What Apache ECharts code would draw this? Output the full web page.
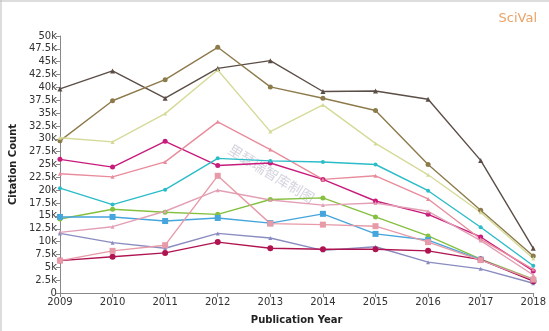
<!DOCTYPE html>
<html>
<head>
<meta charset="utf-8">
<script src="https://cdn.jsdelivr.net/npm/echarts@6/dist/echarts.min.js"></script>
<style>
html,body{margin:0;padding:0;background:#fff;}
#c{width:549px;height:331px;}
</style>
</head>
<body>
<div id="c"></div>
<script>
var years = ['2009','2010','2011','2012','2013','2014','2015','2016','2017','2018'];
var yTicks = [0,2500,5000,7500,10000,12500,15000,17500,20000,22500,25000,27500,30000,32500,35000,37500,40000,42500,45000,47500,50000];

var seriesA = [39700,43200,37900,43700,45200,39200,39300,37700,25800,8700];
var seriesB = [29600,37400,41500,47800,40100,37900,35500,25000,16100,7200];
var seriesC = [30200,29400,34900,43400,31400,36600,29100,23000,15700,6700];
var seriesD = [26000,24500,29500,24800,25300,22100,17900,15300,10900,4300];
var seriesE = [23200,22600,25500,33300,27900,22100,22800,18300,10500,4600];
var seriesF = [20400,17200,20100,26200,25700,25500,25000,19900,12800,5300];
var seriesG = [14400,16300,15700,15300,18200,18500,14800,11100,6600,2700];
var seriesH = [14800,14800,14000,14600,13600,15400,11500,10300,6500,2400];
var seriesI = [11800,12900,15900,20000,18100,17100,17500,15900,10200,3500];
var seriesJ = [11600,9800,8700,11600,10700,8300,9000,6000,4700,1900];
var seriesK = [6300,7050,7800,9900,8700,8500,8500,8200,6500,2300];
var seriesL = [6300,8200,9300,22800,13500,13300,13000,9900,6400,2600];

var defs = [
  {name:'A', data:seriesA, color:'#5b4e47', symbol:'triangle', size:5},
  {name:'B', data:seriesB, color:'#8d7b4b', symbol:'circle', size:5},
  {name:'C', data:seriesC, color:'#d6da98', symbol:'triangle', size:4},
  {name:'D', data:seriesD, color:'#c81c7c', symbol:'circle', size:5},
  {name:'E', data:seriesE, color:'#e88c9c', symbol:'triangle', size:4},
  {name:'F', data:seriesF, color:'#2bbcc8', symbol:'circle', size:4},
  {name:'G', data:seriesG, color:'#86c040', symbol:'circle', size:5},
  {name:'H', data:seriesH, color:'#45a5dc', symbol:'rect', size:6},
  {name:'I', data:seriesI, color:'#e3a0b4', symbol:'triangle', size:4},
  {name:'J', data:seriesJ, color:'#8a8cc0', symbol:'triangle', size:4},
  {name:'K', data:seriesK, color:'#b01450', symbol:'circle', size:6},
  {name:'L', data:seriesL, color:'#e79aa8', symbol:'rect', size:6}
];

var chart = echarts.init(document.getElementById('c'));
chart.setOption({
  animation:false,
  backgroundColor:'#fff',
  grid:{left:53,right:12,top:36,bottom:38},
  xAxis:{
    type:'category', data:years, boundaryGap:false,
    axisLine:{lineStyle:{color:'#888'}},
    axisTick:{alignWithLabel:true,length:4,lineStyle:{color:'#888'}},
    axisLabel:{color:'#333',fontSize:10,fontFamily:'DejaVu Sans',margin:4},
    name:'Publication Year', nameLocation:'middle', nameGap:22,
    nameTextStyle:{fontWeight:'bold',fontSize:10,color:'#222',fontFamily:'DejaVu Sans'}
  },
  yAxis:{
    type:'value', min:0, max:50000, interval:2500,
    splitLine:{show:false},
    axisLine:{show:true,lineStyle:{color:'#888'}},
    axisTick:{show:true,length:4,lineStyle:{color:'#888'}},
    axisLabel:{color:'#333',fontSize:10,fontFamily:'DejaVu Sans',margin:3,
      formatter:function(v){return v===0?'0':(v/1000)+'k';}},
    name:'Citation Count', nameLocation:'middle', nameGap:38,
    nameTextStyle:{fontWeight:'bold',fontSize:10,color:'#222',fontFamily:'DejaVu Sans'}
  },
  graphic:[
    {type:'text', right:12, top:12, style:{text:'SciVal', fill:'#e9a368', font:'13px "DejaVu Sans"'}},
    {type:'text', left:226, top:142, rotation:-0.55, style:{text:'里瑟瑞智库制图', fill:'rgba(160,160,185,0.45)', font:'14px "Noto Sans CJK SC"'}},
    {type:'line', shape:{x1:0,y1:1,x2:549,y2:1}, style:{stroke:'#bbb',lineWidth:1}},
    {type:'line', shape:{x1:1,y1:0,x2:1,y2:331}, style:{stroke:'#bbb',lineWidth:1}}
  ],
  series: defs.map(function(d){
    return {
      name:d.name, type:'line', data:d.data, symbol:d.symbol, symbolSize:d.size,
      itemStyle:{color:d.color}, lineStyle:{color:d.color,width:1.4}
    };
  })
});
</script>
</body>
</html>
